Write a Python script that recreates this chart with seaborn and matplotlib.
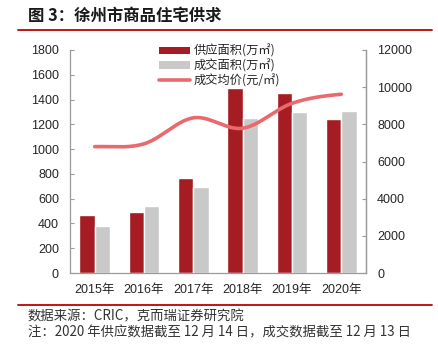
import numpy as np
import pandas as pd
import matplotlib
matplotlib.use("Agg")
import matplotlib.pyplot as plt
import seaborn as sns
from matplotlib.lines import Line2D
from matplotlib.patches import Patch

# ---- data ----
years = ["2015年", "2016年", "2017年", "2018年", "2019年", "2020年"]
supply = [470, 492, 770, 1495, 1453, 1245]
deal = [380, 541, 694, 1248, 1297, 1310]
price = [6800, 6950, 8350, 7790, 9130, 9620]
series_names = ["供应面积(万㎡)", "成交面积(万㎡)", "成交均价(元/㎡)"]
left_ticks = [0, 200, 400, 600, 800, 1000, 1200, 1400, 1600, 1800]
right_ticks = [0, 2000, 4000, 6000, 8000, 10000, 12000]

sns.set_theme(style="white")
plt.rcParams["font.family"] = ["Liberation Sans", "Noto Sans CJK SC", "DejaVu Sans"]
cjk = ["Noto Sans CJK SC", "DejaVu Sans"]

RED = "#A51C22"
GRAY = "#C9C9C9"
PINK = "#E8696E"
AXC = "#9A9A9A"

fig = plt.figure(figsize=(4.39, 3.46), dpi=100)
ax = fig.add_axes([70 / 439, 1 - 273 / 346, (366 - 70) / 439, (273 - 50) / 346])

df = pd.DataFrame({
    "year": years * 2,
    "val": supply + deal,
    "series": [series_names[0]] * 6 + [series_names[1]] * 6,
})
sns.barplot(data=df, x="year", y="val", hue="series", palette=[RED, GRAY],
            width=0.62, gap=0, ax=ax, legend=False, saturation=1)

ax.set_xlim(-0.5, 5.5)
ax.set_ylim(0, 1800)
ax.set_yticks(left_ticks)
ax.set_xlabel("")
ax.set_ylabel("")
ax.set_xticks(range(6))
ax.set_xticklabels(years, fontfamily=["Liberation Sans", "Noto Sans CJK SC"], fontsize=9)
ax.set_xticks(np.arange(-0.5, 6, 1), minor=True)
ax.tick_params(axis="x", which="major", length=0, pad=8)
ax.tick_params(axis="x", which="minor", direction="in", length=3, color=AXC, width=0.8)
ax.tick_params(axis="y", direction="in", length=3, color=AXC, width=0.8, labelsize=9, pad=8, left=True)
for s in ["top"]:
    ax.spines[s].set_visible(False)
for s in ["left", "bottom", "right"]:
    ax.spines[s].set_color(AXC)
    ax.spines[s].set_linewidth(0.9)

ax2 = ax.twinx()
ax2.set_ylim(0, 12000)
ax2.set_yticks(right_ticks)
ax2.tick_params(axis="y", direction="in", length=3, color=AXC, width=0.8, labelsize=9, pad=8, right=True)
for s in ["top", "left", "bottom"]:
    ax2.spines[s].set_visible(False)
ax2.spines["right"].set_color(AXC)
ax2.spines["right"].set_linewidth(0.9)


def catmull(xs, ys, n=30):
    xs = np.asarray(xs, float)
    ys = np.asarray(ys, float)
    px = np.concatenate([[2 * xs[0] - xs[1]], xs, [2 * xs[-1] - xs[-2]]])
    py = np.concatenate([[ys[0]], ys, [ys[-1]]])
    ox, oy = [], []
    for i in range(1, len(px) - 2):
        t = np.linspace(0, 1, n, endpoint=False)
        for arr, out in ((px, ox), (py, oy)):
            p0, p1, p2, p3 = arr[i - 1], arr[i], arr[i + 1], arr[i + 2]
            m1 = (p2 - p0) / 2
            m2 = (p3 - p1) / 2
            h00 = 2 * t**3 - 3 * t**2 + 1
            h10 = t**3 - 2 * t**2 + t
            h01 = -2 * t**3 + 3 * t**2
            h11 = t**3 - t**2
            out.extend(h00 * p1 + h10 * m1 + h01 * p2 + h11 * m2)
    ox.append(xs[-1])
    oy.append(ys[-1])
    return np.array(ox), np.array(oy)


sx, sy = catmull(np.arange(6), price)
sns.lineplot(x=sx, y=sy, ax=ax2, color=PINK, linewidth=2.6, sort=False,
             solid_capstyle="round")
ax2.set_ylabel("")

handles = [Patch(facecolor=RED, edgecolor="none"),
           Patch(facecolor=GRAY, edgecolor="none"),
           Line2D([], [], color=PINK, linewidth=2.6)]
fig.legend(handles, series_names, loc="upper left", bbox_to_anchor=(150 / 439, 1 - 36 / 346),
           frameon=False, prop={"family": cjk, "size": 8.8}, handlelength=2.6,
           handleheight=0.55, labelspacing=0.12, handletextpad=0.3, borderpad=0.2)

fig.text(28 / 439, 1 - 16 / 346, "图 3：徐州市商品住宅供求", fontfamily=cjk, fontsize=11.8,
         fontweight="bold", va="center", ha="left", color="#1a1a1a")
fig.add_artist(Line2D([18 / 439, 432 / 439], [1 - 30 / 346] * 2, color="#C00000", lw=1.3))
fig.add_artist(Line2D([18 / 439, 432 / 439], [1 - 305 / 346] * 2, color="#C00000", lw=1.3))
fig.text(28 / 439, 1 - 316 / 346, "数据来源：CRIC，克而瑞证券研究院", fontfamily=cjk,
         fontsize=9.6, va="center", ha="left", color="#333333")
fig.text(28 / 439, 1 - 332 / 346, "注：2020 年供应数据截至 12 月 14 日，成交数据截至 12 月 13 日",
         fontfamily=cjk, fontsize=9.6, va="center", ha="left", color="#333333")

fig.savefig("out.png", dpi=100)
